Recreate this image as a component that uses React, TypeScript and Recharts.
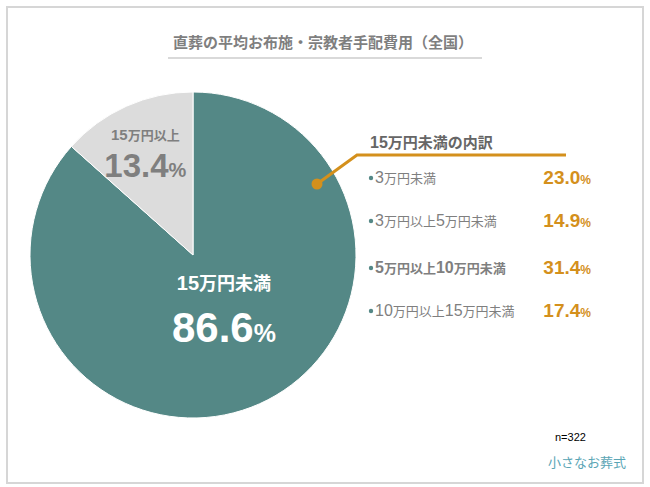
import React from 'react';
import { PieChart, Pie, Cell } from 'recharts';

const sliceNames = ['15万円未満', '15万円以上'];
const sliceValues = [86.6, 13.4];
const sliceColors = ['#548886', '#dcdcdc'];

const breakdownTitle = '15万円未満の内訳';
const breakdownLabels = ['3万円未満', '3万円以上5万円未満', '5万円以上10万円未満', '10万円以上15万円未満'];
const breakdownValues = [23.0, 14.9, 31.4, 17.4];
const breakdownBold = [false, false, true, false];

const chartTitle = '直葬の平均お布施・宗教者手配費用（全国）';
const sampleNote = 'n=322';
const brand = '小さなお葬式';

const FONT = "'Liberation Sans', 'Noto Sans CJK JP', sans-serif";
const ORANGE = '#d4901c';
const RADIAN = Math.PI / 180;

const pieData = sliceNames.map((name, i) => ({ name, value: sliceValues[i] }));

// per-slice label styling (radius fraction, nudges, font sizes, colour)
const labelStyle = [
  { r: 0.36, dx: 7, dy: -4, nameSize: 20, nameDy: -15, valSize: 42, pctSize: 25, valDy: 37, color: '#ffffff' },
  { r: 0.7, dx: -1, dy: 0, nameSize: 15, nameDy: -11, valSize: 33, pctSize: 20, valDy: 26, color: '#7f7f7f' },
];

// digits bigger than kanji, like the original slide text
const runs = (s: string) => s.match(/[0-9.]+|[^0-9.]+/g) || [];

const MixedText = ({ text, big, small, weight }: { text: string; big: number; small: number; weight: string | number }) => (
  <>
    {runs(text).map((r, i) => (
      <tspan key={i} fontSize={/[0-9]/.test(r) ? big : small} fontWeight={weight}>
        {r}
      </tspan>
    ))}
  </>
);

const renderSliceLabel = (props: any) => {
  const { cx, cy, midAngle, outerRadius, index } = props;
  const st = labelStyle[index];
  const rr = outerRadius * st.r;
  const x = cx + rr * Math.cos(-midAngle * RADIAN) + st.dx;
  const y = cy + rr * Math.sin(-midAngle * RADIAN) + st.dy;
  return (
    <g>
      <text x={x} y={y + st.nameDy} textAnchor="middle" fill={st.color} fontFamily={FONT} fontWeight="bold">
        <MixedText text={sliceNames[index]} big={st.nameSize} small={st.nameSize - 2} weight="bold" />
      </text>
      <text x={x} y={y + st.valDy} textAnchor="middle" fill={st.color} fontFamily={FONT} fontWeight="bold">
        <tspan fontSize={st.valSize}>{sliceValues[index].toFixed(1)}</tspan>
        <tspan fontSize={st.pctSize}>%</tspan>
      </text>
    </g>
  );
};

const rowY = [177, 220, 267, 310];

export default function App() {
  return (
    <div style={{ position: 'fixed', left: 0, top: 0, width: 650, height: 487, background: '#fff', fontFamily: FONT }}>
      <div
        style={{
          position: 'absolute',
          left: 6,
          top: 6,
          width: 634,
          height: 474,
          border: '2px solid #d6d6d6',
        }}
      />
      <div style={{ position: 'absolute', left: 0, top: 0 }}>
        <PieChart width={650} height={487} margin={{ top: 0, right: 0, bottom: 0, left: 0 }}>
          <Pie
            data={pieData}
            dataKey="value"
            cx={193}
            cy={255}
            outerRadius={163}
            startAngle={90}
            endAngle={-270}
            stroke="#ffffff"
            strokeWidth={1}
            label={renderSliceLabel}
            labelLine={false}
            isAnimationActive={false}
          >
            {pieData.map((d, i) => (
              <Cell key={d.name} fill={sliceColors[i]} />
            ))}
          </Pie>
        </PieChart>
      </div>
      <svg width={650} height={487} style={{ position: 'absolute', left: 0, top: 0, pointerEvents: 'none' }}>
        <text x={323} y={48} textAnchor="middle" fontSize={15} fontWeight="bold" fill="#7f7f7f" fontFamily={FONT}>
          {chartTitle}
        </text>
        <line x1={168} x2={482} y1={58} y2={58} stroke="#d9d9d9" strokeWidth={2} />

        <polyline points="317,184 357,155 566,155" fill="none" stroke={ORANGE} strokeWidth={3} />
        <circle cx={317} cy={184} r={5.5} fill={ORANGE} />

        <text x={370} y={148} fontFamily={FONT} fill="#666666" fontWeight="bold">
          <MixedText text={breakdownTitle} big={16} small={15} weight="bold" />
        </text>

        {breakdownLabels.map((lab, i) => (
          <g key={lab}>
            <circle cx={371} cy={rowY[i] + 1} r={2.2} fill="#548886" />
            <text x={375} y={rowY[i] + 6} fontFamily={FONT} fill="#7f7f7f">
              <MixedText
                text={lab}
                big={16}
                small={13}
                weight={breakdownBold[i] ? 'bold' : 'normal'}
              />
            </text>
            <text x={591} y={rowY[i] + 7} textAnchor="end" fontFamily={FONT} fill={ORANGE} fontWeight="bold">
              <tspan fontSize={19}>{breakdownValues[i].toFixed(1)}</tspan>
              <tspan fontSize={12}>%</tspan>
            </text>
          </g>
        ))}

        <text x={555} y={441} fontSize={11} fill="#000" fontFamily={FONT}>
          {sampleNote}
        </text>
        <text x={548} y={467} fontSize={13} fill="#5aa5b5" fontFamily="'Noto Sans CJK JP', sans-serif">
          {brand}
        </text>
      </svg>
    </div>
  );
}
